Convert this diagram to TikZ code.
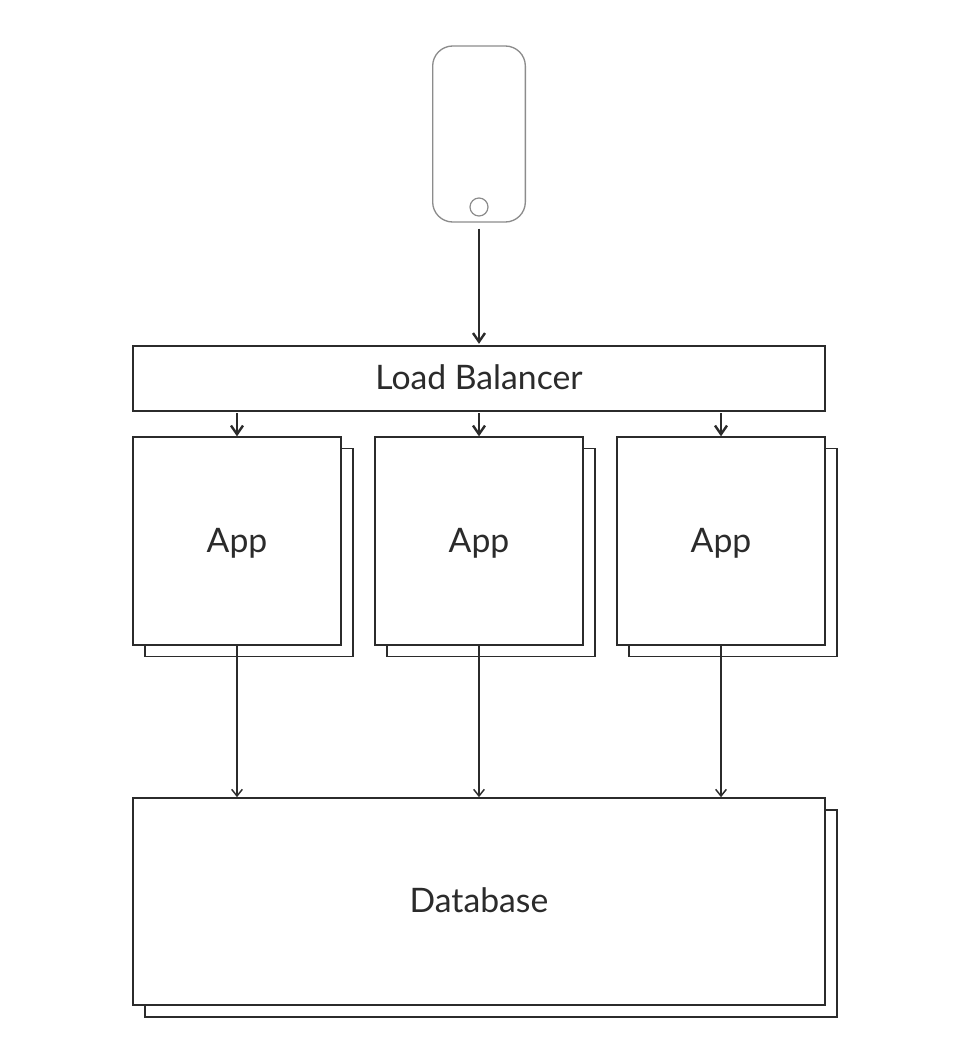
\documentclass[tikz,border=0pt]{standalone}
\usepackage{fontspec}
\setmainfont{Lato}
\usetikzlibrary{arrows.meta}
\definecolor{ink}{HTML}{2B2B2B}
\definecolor{phonegrey}{HTML}{8C8C8C}
\tikzset{
  x=0.75pt,y=-0.75pt,
  box/.style={draw=ink,line width=1.25pt,fill=white,rectangle,inner sep=0pt,outer sep=0pt,text=ink,text height=22pt,text depth=5pt,font=\fontsize{25.3}{28}\selectfont},
  appbox/.style={box,minimum width=156pt,minimum height=156pt},
  wide/.style={box,minimum width=519pt},
  dbbox/.style={wide,minimum height=155.5pt},
  phonebody/.style={draw=phonegrey,line width=1pt,rounded corners=15pt,rectangle,minimum width=69.5pt,minimum height=132pt,inner sep=0pt,outer sep=0pt},
  phonebutton/.style={draw=phonegrey,line width=0.9pt,circle,minimum size=13.5pt,inner sep=0pt,outer sep=0pt},
  strong/.style={draw=ink,line width=1.4pt,-{Straight Barb[length=6.5pt,width=9pt,line width=1.8pt]}},
  thin/.style={draw=ink,line width=0.95pt,-{Straight Barb[length=5pt,width=8pt,line width=1.1pt]}}
}
\begin{document}
\begin{tikzpicture}
\useasboundingbox (0,0) rectangle (975,1063);
% stacked back sheets
\node[appbox] (s1) at (249,552.5) {};
\node[appbox] (s2) at (491,552.5) {};
\node[appbox] (s3) at (733,552.5) {};
\node[dbbox] (sd) at (491,913.5) {};
% front boxes
\node[appbox] (a1) at (237,541) {App};
\node[appbox] (a2) at (479,541) {App};
\node[appbox] (a3) at (721,541) {App};
\node[dbbox] (db) at (479,901.5) {Database};
\node[wide,minimum height=49pt] (lb) at (479,378.5) {Load Balancer};
% phone
\node[phonebody] (phone) at (479,134) {};
\node[phonebutton] (btn) at (479,207) {};
% connectors
\draw[strong,shorten <=5pt,shorten >=1.5pt] (phone.south) -- (lb.north);
\draw[strong,shorten <=1.5pt,shorten >=0.5pt] (lb.south -| a1.north) -- (a1.north);
\draw[strong,shorten <=1.5pt,shorten >=0.5pt] (lb.south -| a2.north) -- (a2.north);
\draw[strong,shorten <=1.5pt,shorten >=0.5pt] (lb.south -| a3.north) -- (a3.north);
\draw[thin,shorten >=0.5pt] (a1.south) -- (a1.south |- db.north);
\draw[thin,shorten >=0.5pt] (a2.south) -- (a2.south |- db.north);
\draw[thin,shorten >=0.5pt] (a3.south) -- (a3.south |- db.north);
\end{tikzpicture}
\end{document}
